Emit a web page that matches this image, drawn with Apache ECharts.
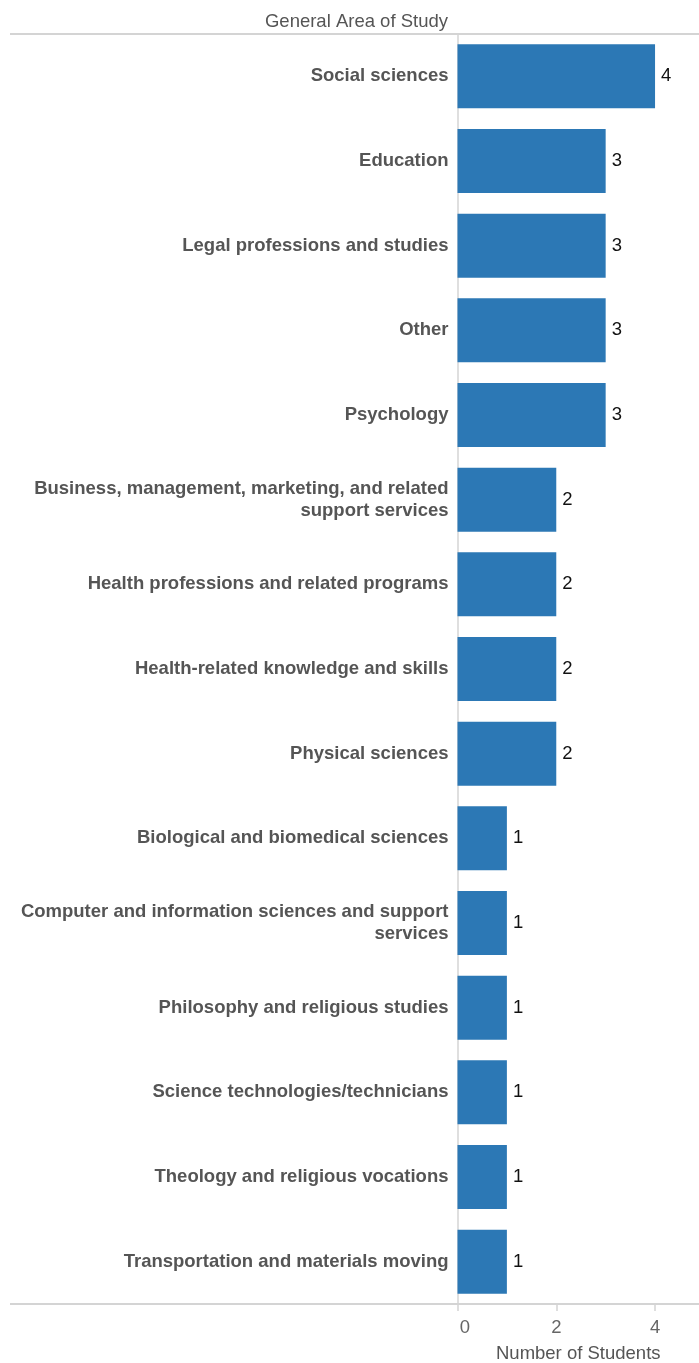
<!DOCTYPE html>
<html><head><meta charset="utf-8">
<script src="https://cdn.jsdelivr.net/npm/echarts@6/dist/echarts.min.js"></script>
<style>html,body{margin:0;padding:0;background:#fff}#c{width:699px;height:1363px}</style>
</head><body><div id="c"></div>
<script>
const categories = [
  'Social sciences',
  'Education',
  'Legal professions and studies',
  'Other',
  'Psychology',
  'Business, management, marketing, and related\nsupport services',
  'Health professions and related programs',
  'Health-related knowledge and skills',
  'Physical sciences',
  'Biological and biomedical sciences',
  'Computer and information sciences and support\nservices',
  'Philosophy and religious studies',
  'Science technologies/technicians',
  'Theology and religious vocations',
  'Transportation and materials moving'
];
const students = [4, 3, 3, 3, 3, 2, 2, 2, 2, 1, 1, 1, 1, 1, 1];
const xTicks = [0, 2, 4];
const headerTitle = 'General Area of Study';
const axisTitle = 'Number of Students';

const FONT = '"Liberation Sans", Arial, sans-serif';
const FS = 18.5;
const chart = echarts.init(document.getElementById('c'), null, {renderer: 'canvas'});
chart.setOption({
  animation: false,
  backgroundColor: '#fff',
  grid: {left: 457.5, right: 0, top: 34, bottom: 59, containLabel: false, outerBoundsMode: 'none'},
  xAxis: {
    type: 'value', min: 0, max: 4.89, interval: 2,
    splitLine: {show: false},
    axisLine: {show: true, lineStyle: {color: '#d4d4d4', width: 2}},
    axisTick: {show: true, length: 7, lineStyle: {color: '#d4d4d4', width: 1.5}, customValues: xTicks},
    axisLabel: {
      customValues: xTicks,
      color: '#666', fontSize: FS, fontFamily: FONT, margin: 14,
      formatter: v => v === 0 ? '{z|0}' : String(v),
      rich: {z: {padding: [0, 0, 0, 15], color: '#666', fontSize: FS, fontFamily: FONT}}
    },
    name: axisTitle, nameLocation: 'middle', nameGap: 40,
    nameTextStyle: {color: '#555', fontSize: FS, fontFamily: FONT}
  },
  yAxis: {
    type: 'category', data: categories, inverse: true,
    axisLine: {show: true, lineStyle: {color: '#d4d4d4', width: 1.5}},
    axisTick: {show: false},
    axisLabel: {color: '#555', fontWeight: 'bold', fontSize: FS, fontFamily: FONT, margin: 9, lineHeight: 22, align: 'right'}
  },
  series: [{
    type: 'bar', data: students, barWidth: 64,
    itemStyle: {color: '#2c78b5'},
    label: {show: true, position: 'right', distance: 6, color: '#111', fontSize: FS, fontFamily: FONT}
  }],
  graphic: [
    {type: 'line', silent: true, shape: {x1: 10, y1: 34, x2: 699, y2: 34}, style: {stroke: '#d4d4d4', lineWidth: 2}},
    {type: 'line', silent: true, shape: {x1: 10, y1: 1304, x2: 457, y2: 1304}, style: {stroke: '#d4d4d4', lineWidth: 2}},
    {type: 'text', silent: true, x: 448, y: 22, style: {text: headerTitle, align: 'right', verticalAlign: 'middle', fill: '#555', fontSize: FS, fontFamily: FONT}}
  ]
});
</script></body></html>
